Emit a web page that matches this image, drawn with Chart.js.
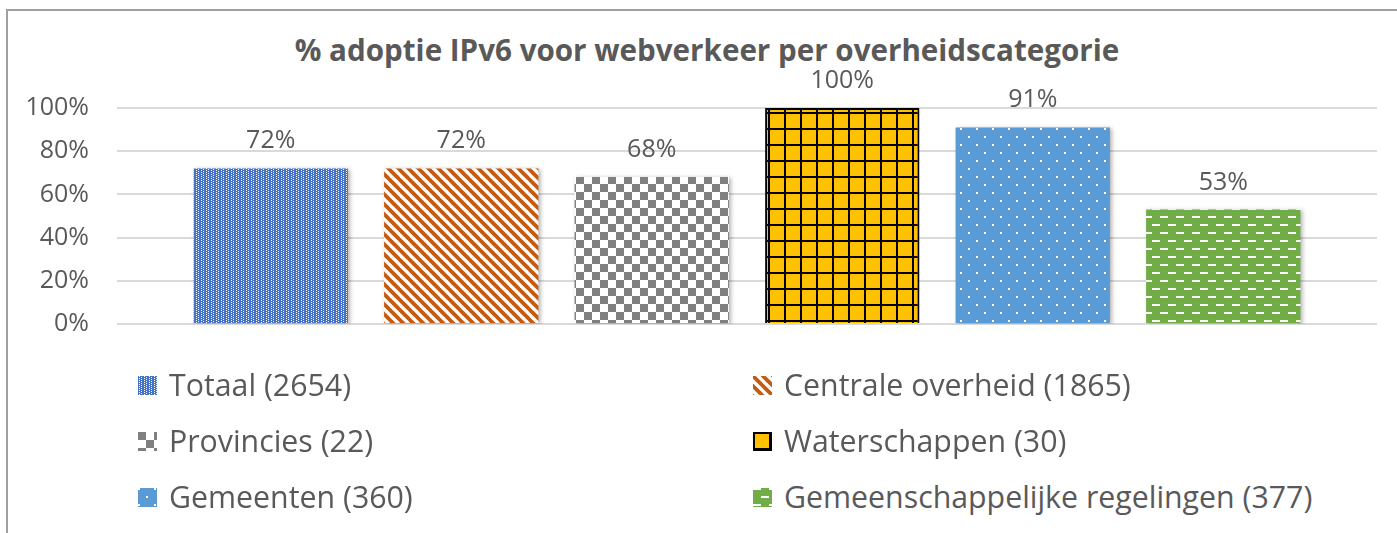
<!DOCTYPE html>
<html>
<head>
<meta charset="utf-8">
<title>% adoptie IPv6 voor webverkeer per overheidscategorie</title>
<script src="https://cdn.jsdelivr.net/npm/chart.js@4.4.1/dist/chart.umd.min.js"></script>
<style>
  html, body { margin: 0; padding: 0; background: #fff; }
  body { width: 1397px; height: 533px; position: relative; overflow: hidden; font-family: "Open Sans", sans-serif; }
  .frame { position: absolute; left: 6px; top: 9px; right: -10px; bottom: -10px; border-left: 2px solid #a0a0a0; border-top: 2px solid #a0a0a0; }
  .chart-title { position: absolute; left: 0; width: 1414px; top: 30px; height: 40px; line-height: 40px; text-align: center; font-size: 29.6px; font-weight: bold; color: #595959; white-space: nowrap; }
  .chart-box { position: absolute; left: 0; top: 0; width: 1397px; height: 367px; }
  .legend-item { position: absolute; height: 40px; line-height: 40px; display: flex; align-items: center; font-size: 30.3px; color: #595959; white-space: nowrap; }
  .legend-item canvas { width: 19px; height: 19px; margin-right: 12px; }
</style>
</head>
<body>
<div class="frame"></div>
<div class="chart-title">% adoptie IPv6 voor webverkeer per overheidscategorie</div>
<div class="chart-box"><canvas id="chart"></canvas></div>
<div id="legend"></div>
<script>
// data
const categories = ['Totaal (2654)', 'Centrale overheid (1865)', 'Provincies (22)', 'Waterschappen (30)', 'Gemeenten (360)', 'Gemeenschappelijke regelingen (377)'];
const adoption = [72, 72, 68, 100, 91, 53];
const yTickValues = [0, 20, 40, 60, 80, 100];

const barColors = ['#4472C4', '#C55A11', '#808080', '#FFC000', '#5B9BD5', '#70AD47'];
const patternKinds = ['smallgrid', 'diagonal', 'checker', 'grid', 'dots', 'dashes'];
const textColor = '#595959';

Chart.defaults.font.family = "'Open Sans', sans-serif";

// little tiles for the Excel-like pattern fills
function makeTile(kind, color) {
    const c = document.createElement('canvas');
    const g = c.getContext('2d');
    let w = 16, h = 16;
    if (kind === 'smallgrid') { w = 5; h = 4; }
    if (kind === 'diagonal') { w = 10; h = 10; }
    c.width = w; c.height = h;
    g.fillStyle = (kind === 'diagonal' || kind === 'checker') ? '#fff' : color;
    g.fillRect(0, 0, w, h);
    switch (kind) {
        case 'smallgrid':
            g.fillStyle = '#fff';
            g.fillRect(1, 0, 1, 1); g.fillRect(1, 2, 1, 1);
            g.fillRect(3, 1, 1, 1); g.fillRect(3, 3, 1, 1);
            break;
        case 'diagonal':
            g.strokeStyle = color;
            g.lineWidth = 3.8;
            [-10, 0, 10].forEach(o => {
                g.beginPath();
                g.moveTo(o - 1, -1);
                g.lineTo(o + 11, 11);
                g.stroke();
            });
            break;
        case 'checker':
            g.fillStyle = color;
            g.fillRect(0, 0, 8, 8); g.fillRect(8, 8, 8, 8);
            break;
        case 'grid':
            g.fillStyle = '#000';
            g.fillRect(0, 0, 16, 2); g.fillRect(0, 0, 2, 16);
            break;
        case 'dots':
            g.fillStyle = '#fff';
            g.fillRect(0, 0, 2, 2); g.fillRect(8, 8, 2, 2);
            break;
        case 'dashes':
            g.fillStyle = '#fff';
            g.fillRect(0, 0, 8, 2); g.fillRect(8, 8, 8, 2);
            break;
    }
    return c;
}

// soft shadow under bars + value labels on top
const barDecor = {
    id: 'barDecor',
    beforeDatasetsDraw(chart) {
        const ctx = chart.ctx;
        ctx.save();
        ctx.shadowColor = 'rgba(0,0,0,0.3)';
        ctx.shadowBlur = 4;
        ctx.shadowOffsetX = 2;
        ctx.shadowOffsetY = 1;
    },
    afterDatasetsDraw(chart) {
        const ctx = chart.ctx;
        ctx.restore();
        ctx.save();
        ctx.fillStyle = textColor;
        ctx.font = "25px 'Open Sans', sans-serif";
        ctx.textAlign = 'center';
        ctx.textBaseline = 'alphabetic';
        chart.getDatasetMeta(0).data.forEach((bar, i) => {
            ctx.fillText(adoption[i] + '%', bar.x, bar.y - 20);
        });
        ctx.restore();
    }
};

const ctx = document.getElementById('chart').getContext('2d');
const fills = patternKinds.map((k, i) => ctx.createPattern(makeTile(k, barColors[i]), 'repeat'));

const chart = new Chart(ctx, {
    type: 'bar',
    data: {
        labels: categories,
        datasets: [{
            data: adoption.map((v, i) => ({ x: i, y: v })),
            backgroundColor: fills,
            borderColor: '#000',
            borderWidth: patternKinds.map(k => k === 'grid' ? 2 : 0),
            barPercentage: 0.81,
            categoryPercentage: 1
        }]
    },
    options: {
        responsive: true,
        maintainAspectRatio: false,
        animation: false,
        layout: { padding: { left: 0, right: 20, top: 108, bottom: 17 } },
        plugins: {
            legend: { display: false },
            tooltip: { enabled: false }
        },
        scales: {
            x: {
                type: 'linear',
                min: -0.807,
                max: 5.807,
                offset: false,
                display: false,
                afterBuildTicks: s => { s.ticks = categories.map((c, i) => ({ value: i })); }
            },
            y: {
                min: 0,
                max: 100,
                afterFit: s => { s.width = 117; },
                afterBuildTicks: s => { s.ticks = yTickValues.map(v => ({ value: v })); },
                ticks: { callback: v => v + '%', color: textColor, font: { size: 25 }, padding: 28 },
                grid: { color: '#d9d9d9', lineWidth: 2, drawTicks: false },
                border: { display: false }
            }
        }
    },
    plugins: [barDecor]
});

// html legend, two columns like the original
const legend = document.getElementById('legend');
const colX = [138, 753];
const rowY = [385, 441, 497];
categories.forEach((name, i) => {
    const item = document.createElement('div');
    item.className = 'legend-item';
    item.style.left = colX[i % 2] + 'px';
    item.style.top = (rowY[Math.floor(i / 2)] - 20) + 'px';
    const sw = document.createElement('canvas');
    sw.width = 19; sw.height = 19;
    const sctx = sw.getContext('2d');
    sctx.fillStyle = sctx.createPattern(makeTile(patternKinds[i], barColors[i]), 'repeat');
    sctx.fillRect(0, 0, 19, 19);
    if (patternKinds[i] === 'grid') {
        sctx.strokeStyle = '#000';
        sctx.lineWidth = 2;
        sctx.strokeRect(1, 1, 17, 17);
    }
    const label = document.createElement('span');
    label.textContent = name;
    item.appendChild(sw);
    item.appendChild(label);
    legend.appendChild(item);
});
</script>
</body>
</html>
